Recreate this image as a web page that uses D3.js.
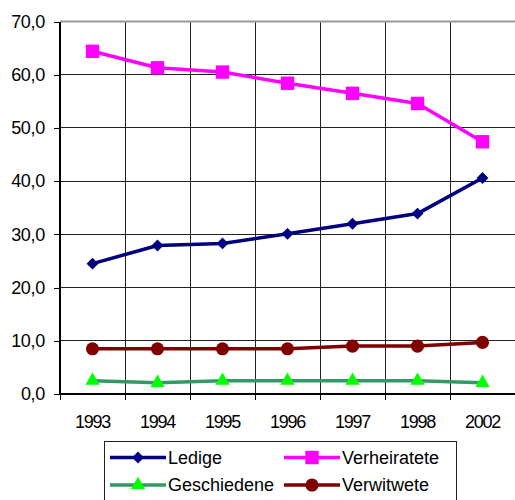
<!DOCTYPE html>
<html>
<head>
<meta charset="utf-8">
<script src="https://cdn.jsdelivr.net/npm/d3@7"></script>
<style>
  html, body { margin: 0; padding: 0; background: #fff; }
  svg { display: block; }
  text { font-family: "Liberation Sans", Arial, sans-serif; fill: #000; }
</style>
</head>
<body>
<svg id="chart" width="515" height="500"></svg>
<script>
// Jahre (Kategorien)
const years = ["1993", "1994", "1995", "1996", "1997", "1998", "2002"];

// Anteile nach Familienstand, in Prozent
const ledige       = [24.5, 27.9, 28.3, 30.1, 32.0, 33.9, 40.6];
const verheiratete = [64.4, 61.3, 60.5, 58.4, 56.5, 54.6, 47.4];
const geschiedene  = [2.5, 2.1, 2.5, 2.5, 2.5, 2.5, 2.1];
const verwitwete   = [8.5, 8.5, 8.5, 8.5, 9.0, 9.0, 9.7];

// Achsenbeschriftung der y-Achse
const yTicks = [0, 10, 20, 30, 40, 50, 60, 70];

const series = [
  { name: "Ledige",       values: ledige,       line: "#000080", fill: "#000080", symbol: d3.symbolDiamond2, size: 90 },
  { name: "Verheiratete", values: verheiratete, line: "#FF00FF", fill: "#FF00FF", symbol: d3.symbolSquare,   size: 180 },
  { name: "Geschiedene",  values: geschiedene,  line: "#339966", fill: "#00FF00", symbol: d3.symbolTriangle, size: 88 },
  { name: "Verwitwete",   values: verwitwete,   line: "#800000", fill: "#800000", symbol: d3.symbolCircle,   size: 135 }
];

const svg = d3.select("#chart");
const plot = { left: 60, right: 515, top: 21.5, bottom: 394 };

const x = d3.scaleBand().domain(years).range([plot.left, plot.right]).padding(0);
const y = d3.scaleLinear().domain([0, 70]).range([plot.bottom, plot.top]);
const fmt = v => d3.format(".1f")(v).replace(".", ",");

// Gitterlinien
const grid = svg.append("g").attr("shape-rendering", "crispEdges");
grid.selectAll("line.h").data(yTicks.filter(t => t > 0 && t < 70)).join("line")
  .attr("x1", plot.left).attr("x2", plot.right)
  .attr("y1", d => y(d)).attr("y2", d => y(d))
  .attr("stroke", "#222").attr("stroke-width", 1);
grid.selectAll("line.v").data(years.slice(1)).join("line")
  .attr("x1", d => x(d)).attr("x2", d => x(d))
  .attr("y1", plot.top).attr("y2", plot.bottom)
  .attr("stroke", "#222").attr("stroke-width", 1);

// obere Begrenzung
svg.append("line")
  .attr("x1", plot.left).attr("x2", plot.right)
  .attr("y1", plot.top).attr("y2", plot.top)
  .attr("stroke", "#999").attr("stroke-width", 2);

// y-Achse
const yAxis = svg.append("g")
  .attr("transform", `translate(${plot.left},0)`)
  .attr("shape-rendering", "crispEdges")
  .call(d3.axisLeft(y).tickValues(yTicks).tickFormat(fmt).tickSize(6).tickPadding(9));
yAxis.select(".domain").attr("stroke", "#000").attr("stroke-width", 1.5)
  .attr("d", `M0,${plot.top}V${plot.bottom}`);
yAxis.selectAll(".tick line").attr("stroke", "#000");
yAxis.selectAll("text").attr("font-size", 18).attr("letter-spacing", -0.3)
  .attr("font-family", "Liberation Sans, Arial, sans-serif");

// x-Achse
const xAxis = svg.append("g")
  .attr("transform", `translate(0,${plot.bottom})`)
  .attr("shape-rendering", "crispEdges")
  .call(d3.axisBottom(x).tickSize(0).tickPadding(21));
xAxis.select(".domain").attr("stroke", "#000").attr("stroke-width", 1.5)
  .attr("d", `M${plot.left},0H${plot.right}`);
xAxis.selectAll("text").attr("font-size", 18).attr("letter-spacing", -1.2)
  .attr("font-family", "Liberation Sans, Arial, sans-serif");
// Teilstriche zwischen den Kategorien
svg.append("g").attr("shape-rendering", "crispEdges")
  .selectAll("line").data(years).join("line")
  .attr("x1", d => x(d)).attr("x2", d => x(d))
  .attr("y1", plot.bottom).attr("y2", plot.bottom + 6)
  .attr("stroke", "#000");

// Linien und Markierungen
const cx = i => x(years[i]) + x.bandwidth() / 2;
const lineGen = d3.line().x((d, i) => cx(i)).y(d => y(d));
const drawOrder = [series[2], series[3], series[0], series[1]];
drawOrder.forEach(s => {
  const g = svg.append("g");
  g.append("path").datum(s.values)
    .attr("d", lineGen).attr("fill", "none")
    .attr("stroke", s.line).attr("stroke-width", 3.5).attr("stroke-linejoin", "round");
  g.selectAll("path.m").data(s.values).join("path")
    .attr("class", "m")
    .attr("d", d3.symbol().type(s.symbol).size(s.size))
    .attr("transform", (d, i) => `translate(${cx(i)},${y(d)})`)
    .attr("fill", s.fill);
});

// Legende
const legend = svg.append("g");
legend.append("rect")
  .attr("x", 104.5).attr("y", 441.5).attr("width", 352).attr("height", 70)
  .attr("fill", "#fff").attr("stroke", "#222").attr("stroke-width", 1);
const legPos = [
  { sx: 110, ty: 457.5 }, { sx: 284, ty: 457.5 },
  { sx: 110, ty: 485 },   { sx: 284, ty: 485 }
];
series.forEach((s, i) => {
  const p = legPos[i];
  const item = legend.append("g");
  item.append("line")
    .attr("x1", p.sx).attr("x2", p.sx + 56)
    .attr("y1", p.ty).attr("y2", p.ty)
    .attr("stroke", s.line).attr("stroke-width", 3.5);
  item.append("path")
    .attr("d", d3.symbol().type(s.symbol).size(s.size))
    .attr("transform", `translate(${p.sx + 28},${p.ty})`)
    .attr("fill", s.fill);
  item.append("text")
    .attr("x", p.sx + 58).attr("y", p.ty)
    .attr("dy", "0.36em")
    .attr("font-size", 18)
    .text(s.name);
});
</script>
</body>
</html>
